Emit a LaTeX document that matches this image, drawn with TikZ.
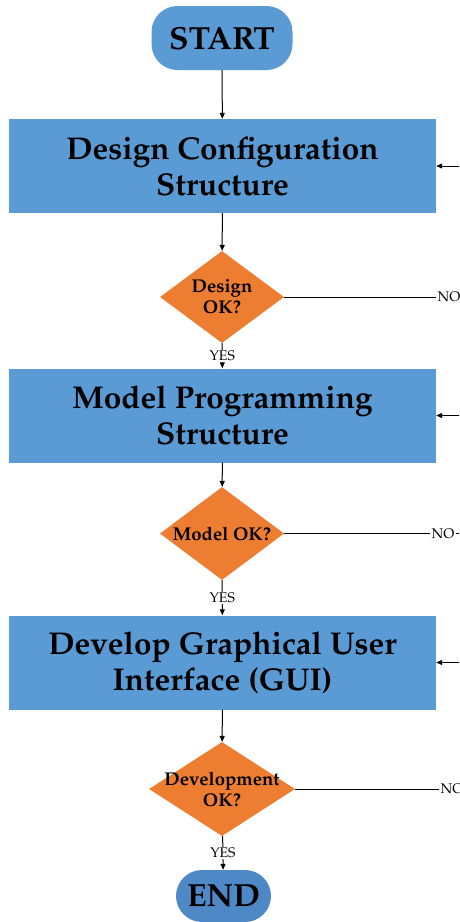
\documentclass[tikz,border=0pt]{standalone}
\usepackage[T1]{fontenc}
\usepackage{mathpazo}
\usetikzlibrary{shapes.geometric,arrows.meta}
\definecolor{stepblue}{HTML}{5B9BD5}
\definecolor{endblue}{HTML}{4F88C6}
\definecolor{checkorange}{HTML}{ED7D31}

\begin{document}
\begin{tikzpicture}[x=1pt,y=-1pt,
    terminal/.style={rectangle, rounded corners=26pt, fill=stepblue, inner sep=0pt,
        font=\fontsize{32}{36}\selectfont\bfseries},
    process/.style={rectangle, fill=stepblue, minimum width=427pt, minimum height=94pt,
        inner sep=0pt, align=center, font=\fontsize{31.5}{36}\selectfont\bfseries},
    decision/.style={diamond, fill=checkorange, inner sep=0pt,
        minimum width=124pt, minimum height=92pt},
    dtext/.style={align=center, font=\fontsize{18.5}{21}\selectfont\bfseries},
    answer/.style={fill=white, inner sep=1pt, font=\fontsize{14}{16}\selectfont},
    flow/.style={-{Triangle[length=6pt,width=5pt]}, line width=1pt}
]
    \clip (0,0) rectangle (459,922);

    % terminals and steps
    \node[terminal, minimum width=141pt, minimum height=64pt] (start) at (222,38) {START};
    \node[process] (design) at (222.5,166) {Design Configuration\\Structure};
    \node[process] (model) at (222.5,415.5) {Model Programming\\Structure};
    \node[process] (gui) at (222.5,662.5) {Develop Graphical User\\Interface (GUI)};
    \node[terminal, fill=endblue, minimum width=95pt, minimum height=52pt] (end) at (223.5,896) {END};

    % checks
    \node[decision] (designok) at (222,297) {};
    \node[dtext] at (designok) {Design\\OK?};
    \node[decision, minimum height=93pt] (modelok) at (222,533.5) {};
    \node[dtext] at (modelok) {Model OK?};
    \node[decision, minimum width=146pt, minimum height=94pt] (guiok) at (222,789) {};
    \node[dtext] at (guiok) {Development\\OK?};

    % main flow
    \draw[flow] (start) -- (design);
    \draw[flow] (design) -- (designok);
    \draw[flow] (designok) -- node[answer] {YES} (model);
    \draw[flow] (model) -- (modelok);
    \draw[flow] (modelok) -- node[answer] {YES} (gui);
    \draw[flow] (gui) -- (guiok);
    \draw[flow] (guiok) -- node[answer] {YES} (end);

    % back loops
    \node[answer] (designno) at (449,297) {NO};
    \node[answer] (modelno) at (443,533.5) {NO};
    \node[answer] (guino) at (452,789) {NO};
    \draw[line width=1pt] (designok.east) -- (designno.west);
    \draw[line width=1pt] (modelok.east) -- (modelno.west);
    \draw[line width=1pt] (guiok.east) -- (guino.west);
    \draw[flow] (designno.east) -- ++(14,0) |- (design.east);
    \draw[flow] (modelno.east) -- ++(14,0) |- (model.east);
    \draw[flow] (guino.east) -- ++(14,0) |- (gui.east);

\end{tikzpicture}
\end{document}
